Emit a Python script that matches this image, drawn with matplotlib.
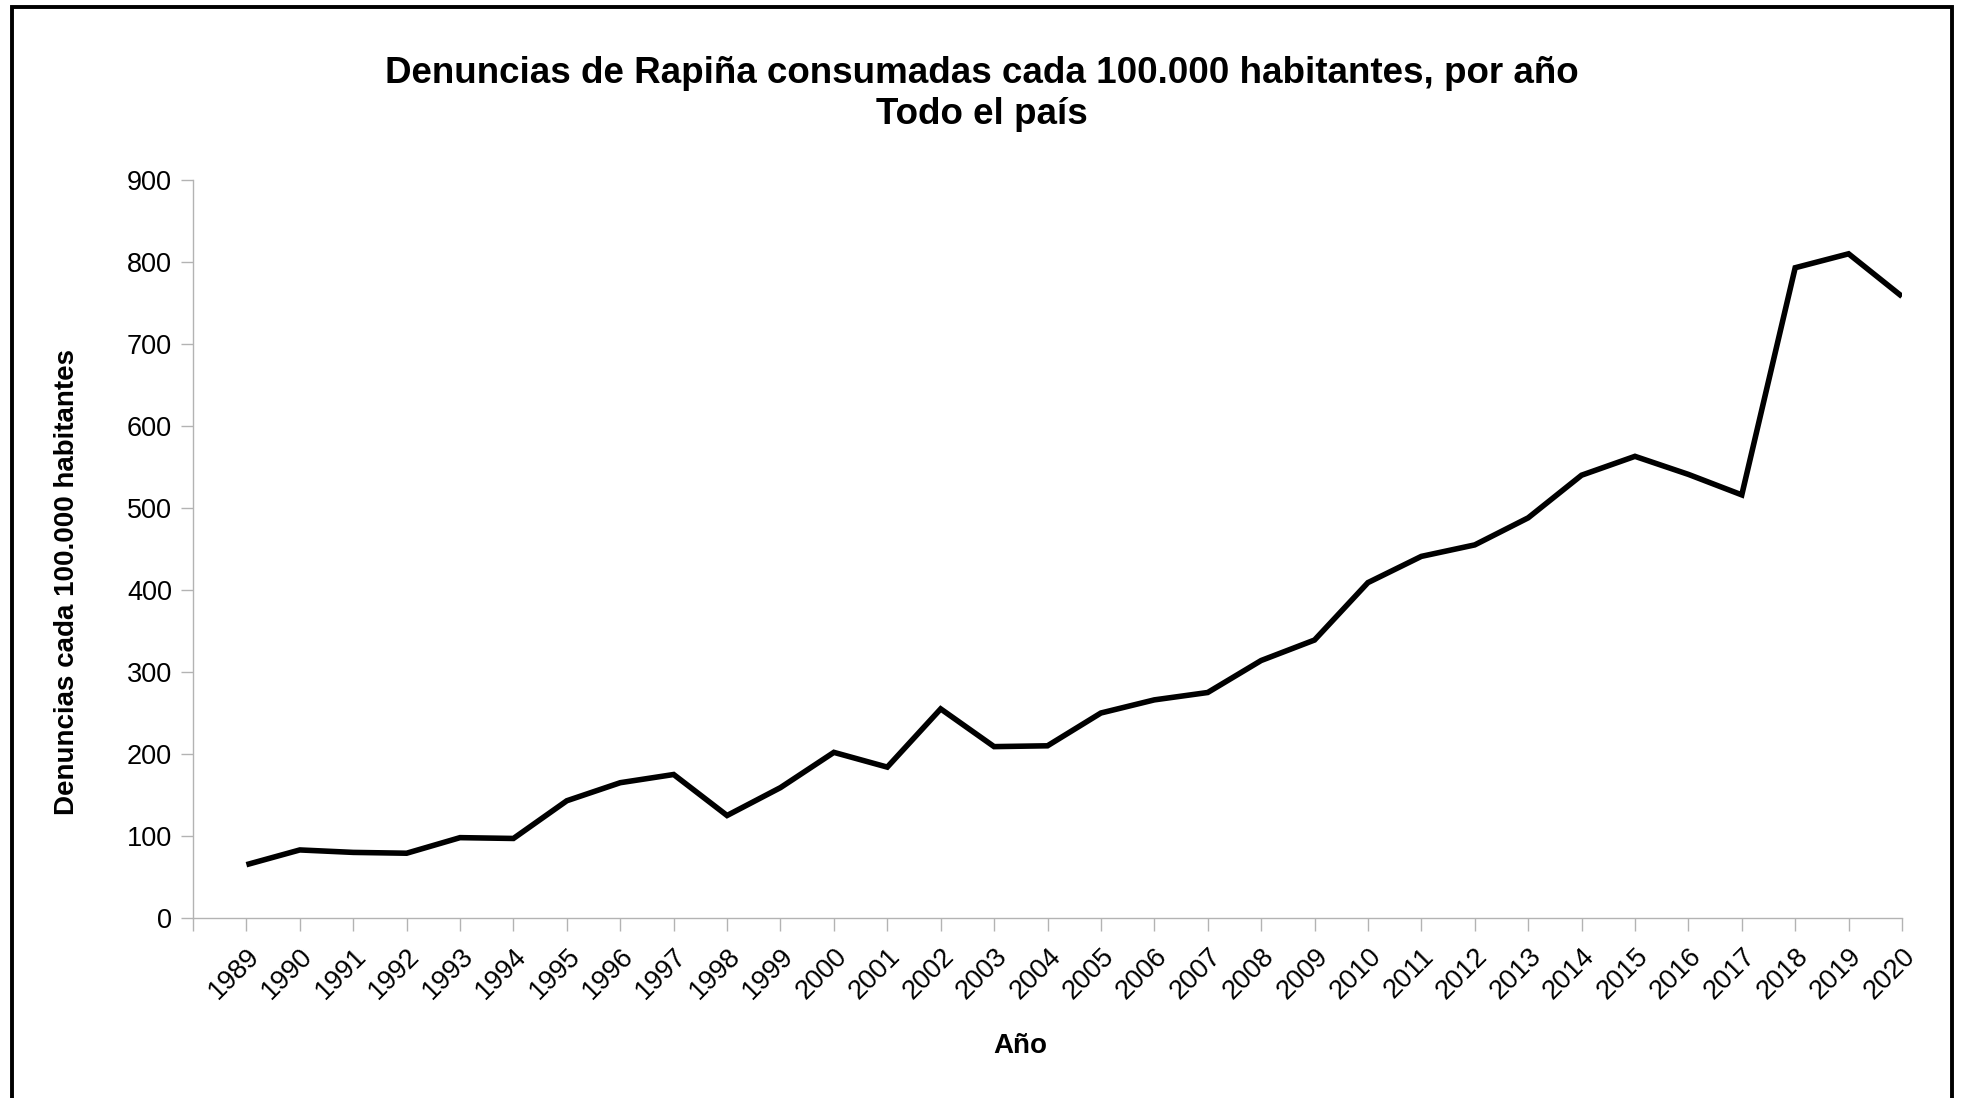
import matplotlib
matplotlib.use("Agg")

import matplotlib.pyplot as plt
import matplotlib.patches as mpatches

plt.rcParams["font.family"] = ["Liberation Sans", "DejaVu Sans"]

# Denuncias de rapiña cada 100.000 habitantes
years = list(range(1989, 2021))
rates = [65, 83, 80, 79, 98, 97, 143, 165, 175, 125, 159, 202, 184, 255, 209, 210,
         250, 266, 275, 314, 339, 409, 441, 455, 488, 540, 563, 541, 516, 793, 810, 758]

title = "Denuncias de Rapiña consumadas cada 100.000 habitantes, por año\nTodo el país"
xlabel = "Año"
ylabel = "Denuncias cada 100.000 habitantes"

GRAY = "#b3b3b3"

fig = plt.figure(figsize=(19.63, 10.98), dpi=100)
ax = fig.add_axes([193 / 1963, 1 - 918 / 1098, (1902 - 193) / 1963, (918 - 180) / 1098])

ax.plot(years, rates, color="black", linewidth=4.0, solid_joinstyle="miter",
        solid_capstyle="butt", zorder=3)

ax.set_xlim(1988, 2020)
ax.set_ylim(0, 900)
ax.set_yticks(range(0, 901, 100))
ax.set_xticks(range(1988, 2021))
ax.set_xticklabels([""] + [str(y) for y in years], rotation=45,
                   ha="right", va="top", rotation_mode="anchor")

for side in ("top", "right"):
    ax.spines[side].set_visible(False)
for side in ("left", "bottom"):
    ax.spines[side].set_color(GRAY)
    ax.spines[side].set_linewidth(1.0)

ax.tick_params(axis="both", colors=GRAY, labelcolor="black", length=9,
               width=1.0, labelsize=19.5)
ax.tick_params(axis="x", pad=9)
ax.tick_params(axis="y", pad=6)

fig.text(0.5, 1 - 94 / 1098, title, ha="center", va="center",
         fontsize=26.5, fontweight="bold", linespacing=1.2)
fig.text(1020 / 1963, 1 - 1046 / 1098, xlabel, ha="center", va="center",
         fontsize=20, fontweight="bold")
fig.text(67 / 1963, 1 - 582 / 1098, ylabel, ha="center", va="center",
         rotation=90, fontsize=20, fontweight="bold")

# marco exterior
frame = mpatches.Rectangle((12 / 1963, -0.01), (1952 - 12) / 1963, 1.01 - 7 / 1098,
                           transform=fig.transFigure, fill=False,
                           edgecolor="black", linewidth=2.8)
fig.patches.append(frame)

fig.savefig("out.png", dpi=100)
